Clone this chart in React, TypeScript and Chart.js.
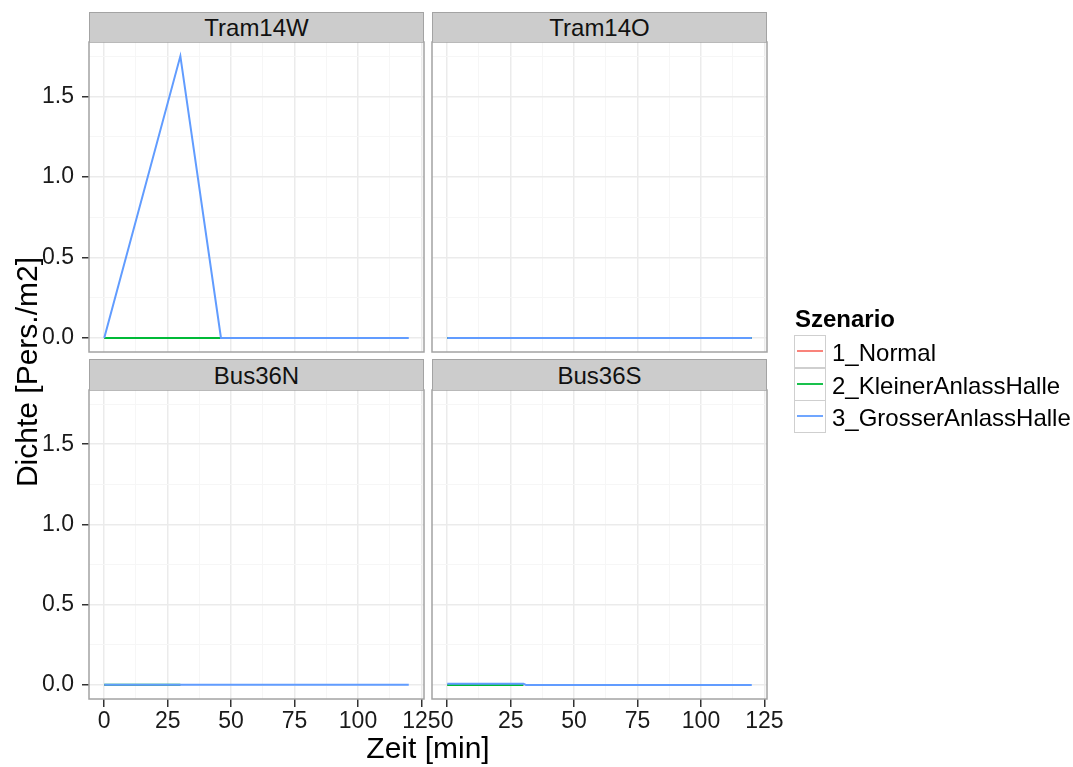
import React, { useEffect, useRef } from 'react';
import { Chart, registerables } from 'chart.js';

Chart.register(...registerables);

// ---------- data ----------
const panelNames = ['Tram14W', 'Tram14O', 'Bus36N', 'Bus36S'];
const seriesNames = ['1_Normal', '2_KleinerAnlassHalle', '3_GrosserAnlassHalle'];
const seriesColors = ['#F8766D', '#00BA38', '#619CFF'];

// time [min] and density values for each series (Normal, Kleiner, Grosser)
const tram14W_t = [[0, 46], [0, 46], [0, 30, 46, 120]];
const tram14W_y = [[0, 0], [0, 0], [0, 1.75, 0, 0]];
const tram14O_t = [[0, 120], [0, 120], [0, 120]];
const tram14O_y = [[0, 0], [0, 0], [0, 0]];
const bus36N_t = [[0, 30], [0, 30], [0, 30, 120]];
const bus36N_y = [[0, 0], [0.001, 0.001], [0.002, 0.002, 0.002]];
const bus36S_t = [[0, 30], [0, 30], [0, 30, 31, 120]];
const bus36S_y = [[0, 0], [0, 0], [0.008, 0.008, 0, 0]];

const panelTimes = [tram14W_t, tram14O_t, bus36N_t, bus36S_t];
const panelValues = [tram14W_y, tram14O_y, bus36N_y, bus36S_y];

const xTicks = [0, 12.5, 25, 37.5, 50, 62.5, 75, 87.5, 100, 112.5, 125];
const xLabels = [0, 25, 50, 75, 100, 125];
const yTicks = [0, 0.25, 0.5, 0.75, 1, 1.25, 1.5, 1.75];
const yLabels = [0, 0.5, 1, 1.5];

const xTitle = 'Zeit [min]';
const yTitle = 'Dichte [Pers./m2]';
const legendTitle = 'Szenario';

// ---------- layout ----------
const W = 1073;
const H = 767;
const FONT = '"Liberation Sans", Arial, Helvetica, sans-serif';
const colL = [89, 432];
const colR = [424, 767];
const rowT = [42, 390];
const rowB = [352, 699];
const stripT = [12, 359];
const BORDER = '#a3a3a3';

const borderPlugin = {
  id: 'panelBorder',
  afterDraw(chart: any) {
    const { ctx, chartArea: a } = chart;
    ctx.save();
    ctx.strokeStyle = BORDER;
    ctx.lineWidth = 1.5;
    ctx.strokeRect(a.left, a.top, a.right - a.left, a.bottom - a.top);
    ctx.restore();
  },
};

function makeConfig(idx: number): any {
  const col = idx % 2;
  const row = Math.floor(idx / 2);
  const isLeft = col === 0;
  const isBottom = row === 1;
  const yW = isLeft ? 75 : 0;
  const xH = isBottom ? 40 : 0;
  const times = panelTimes[idx];
  const vals = panelValues[idx];
  const datasets = seriesNames.map((name, s) => ({
    label: name,
    data: times[s].map((t, i) => ({ x: t, y: vals[s][i] })),
    borderColor: seriesColors[s],
    backgroundColor: seriesColors[s],
    borderWidth: 2,
    pointRadius: 0,
    showLine: true,
    fill: false,
    tension: 0,
    order: 3 - s,
  }));
  return {
    type: 'scatter',
    data: { datasets },
    plugins: [borderPlugin],
    options: {
      responsive: false,
      animation: false,
      devicePixelRatio: 1,
      layout: {
        padding: {
          left: colL[col] - yW,
          right: W - colR[col],
          top: rowT[row],
          bottom: H - rowB[row] - xH,
        },
      },
      plugins: { legend: { display: false }, tooltip: { enabled: false }, title: { display: false } },
      scales: {
        x: {
          type: 'linear',
          min: -6,
          max: 126,
          afterBuildTicks: (s: any) => {
            s.ticks = xTicks.map((v) => ({ value: v }));
          },
          afterFit: (s: any) => {
            s.height = xH;
            s.paddingLeft = 0;
            s.paddingRight = 0;
          },
          ticks: {
            display: isBottom,
            autoSkip: false,
            maxRotation: 0,
            padding: 1,
            color: '#1a1a1a',
            font: { family: FONT, size: 23 },
            callback: (v: number) => (xLabels.includes(v) ? String(v) : ''),
          },
          grid: {
            color: (c: any) => (c.tick && xLabels.includes(c.tick.value) ? '#ebebeb' : '#f6f6f6'),
            lineWidth: (c: any) => (c.tick && xLabels.includes(c.tick.value) ? 1.5 : 1),
            drawTicks: isBottom,
            tickLength: 8,
            tickWidth: 1.5,
            tickColor: (c: any) => (c.tick && xLabels.includes(c.tick.value) ? '#333' : 'rgba(0,0,0,0)'),
          },
          border: { display: false },
        },
        y: {
          type: 'linear',
          min: -0.0875,
          max: 1.8375,
          afterBuildTicks: (s: any) => {
            s.ticks = yTicks.map((v) => ({ value: v }));
          },
          afterFit: (s: any) => {
            s.width = yW;
            s.paddingTop = 0;
            s.paddingBottom = 0;
          },
          ticks: {
            display: isLeft,
            autoSkip: false,
            padding: 8,
            color: '#1a1a1a',
            font: { family: FONT, size: 23 },
            callback: (v: number) => (yLabels.includes(v) ? v.toFixed(1) : ''),
          },
          grid: {
            color: (c: any) => (c.tick && yLabels.includes(c.tick.value) ? '#ebebeb' : '#f6f6f6'),
            lineWidth: (c: any) => (c.tick && yLabels.includes(c.tick.value) ? 1.5 : 1),
            drawTicks: isLeft,
            tickLength: 7,
            tickWidth: 1.5,
            tickColor: (c: any) => (c.tick && yLabels.includes(c.tick.value) ? '#333' : 'rgba(0,0,0,0)'),
          },
          border: { display: false },
        },
      },
    },
  };
}

function Panel({ idx }: { idx: number }) {
  const ref = useRef<HTMLCanvasElement | null>(null);
  useEffect(() => {
    if (!ref.current) return;
    const chart = new Chart(ref.current, makeConfig(idx));
    return () => chart.destroy();
  }, [idx]);
  return (
    <canvas
      ref={ref}
      width={W}
      height={H}
      style={{ position: 'absolute', left: 0, top: 0, width: W, height: H }}
    />
  );
}

export default function App() {
  return (
    <div
      style={{
        position: 'absolute',
        left: 0,
        top: 0,
        width: W,
        height: H,
        background: '#fff',
        fontFamily: FONT,
        overflow: 'hidden',
      }}
    >
      {panelNames.map((_, i) => (
        <Panel key={i} idx={i} />
      ))}
      {panelNames.map((name, i) => {
        const col = i % 2;
        const row = Math.floor(i / 2);
        return (
          <div
            key={'s' + i}
            style={{
              position: 'absolute',
              left: colL[col],
              top: stripT[row],
              width: colR[col] - colL[col],
              height: rowT[row] - stripT[row],
              boxSizing: 'border-box',
              background: '#cccccc',
              border: '1.5px solid ' + BORDER,
              borderBottom: 'none',
              textAlign: 'center',
              fontSize: 24,
              lineHeight: rowT[row] - stripT[row] + 'px',
              color: '#111',
            }}
          >
            {name}
          </div>
        );
      })}
      <div
        style={{
          position: 'absolute',
          left: colL[0],
          width: colR[1] - colL[0],
          top: 730,
          height: 36,
          lineHeight: '36px',
          textAlign: 'center',
          fontSize: 30,
          color: '#000',
        }}
      >
        {xTitle}
      </div>
      <div
        style={{
          position: 'absolute',
          left: 27 - 250,
          top: 372 - 18,
          width: 500,
          height: 36,
          lineHeight: '36px',
          textAlign: 'center',
          fontSize: 30,
          color: '#000',
          transform: 'rotate(-90deg)',
        }}
      >
        {yTitle}
      </div>
      <div
        style={{
          position: 'absolute',
          left: 795,
          top: 304,
          fontSize: 24,
          fontWeight: 'bold',
          lineHeight: '30px',
          color: '#000',
        }}
      >
        {legendTitle}
      </div>
      {seriesNames.map((name, i) => (
        <React.Fragment key={'l' + i}>
          <div
            style={{
              position: 'absolute',
              left: 794,
              top: 335 + i * 32.7,
              width: 32,
              height: 33,
              boxSizing: 'border-box',
              border: '1.5px solid #cfcfcf',
              background: '#fff',
            }}
          >
            <div
              style={{
                position: 'absolute',
                left: 2,
                right: 2,
                top: 14,
                height: 2,
                background: seriesColors[i],
                opacity: 0.9,
              }}
            />
          </div>
          <div
            style={{
              position: 'absolute',
              left: 832,
              top: 336 + i * 32.7,
              height: 33,
              lineHeight: '33px',
              fontSize: 24,
              color: '#000',
              whiteSpace: 'nowrap',
            }}
          >
            {name}
          </div>
        </React.Fragment>
      ))}
    </div>
  );
}
